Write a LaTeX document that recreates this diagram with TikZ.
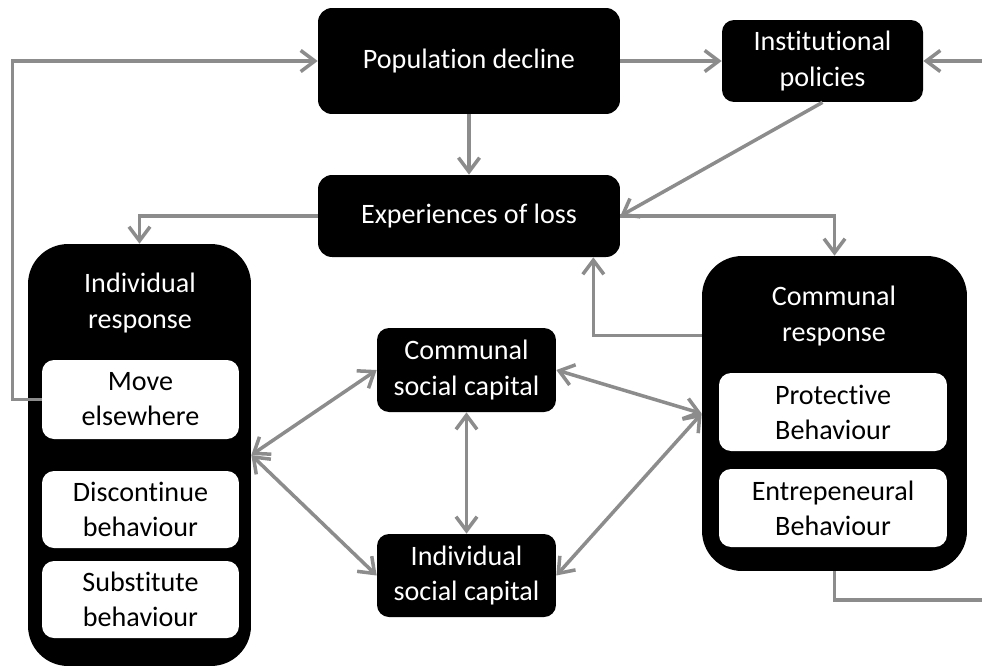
\documentclass[tikz,border=0pt]{standalone}
\usepackage{fontspec}
\setmainfont[Ligatures=NoCommon]{Carlito}
\usetikzlibrary{calc,arrows.meta}

\begin{document}
\begin{tikzpicture}[x=0.02cm,y=-0.02cm,
  font=\fontsize{16}{20}\selectfont,
  blk/.style={fill=black,text=white,rounded corners=0.28cm,align=center,inner sep=0pt},
  big/.style={fill=black,rounded corners=0.8cm,inner sep=0pt},
  wht/.style={fill=white,text=black,rounded corners=0.24cm,align=center,inner sep=0pt},
  conn/.style={draw=gray!90,line width=2pt,-{Straight Barb[length=8pt,width=12pt]}},
  both/.style={conn,{Straight Barb[length=8pt,width=12pt]}-{Straight Barb[length=8pt,width=12pt]}}]
\useasboundingbox (0,0) rectangle (982,667);
% top row
\node[blk,minimum width=6.04cm,minimum height=2.12cm] (pop) at (469,61) {Population decline};
\node[blk,minimum width=4.02cm,minimum height=1.64cm,rounded corners=0.24cm] (inst) at (822.5,61) {Institutional\\policies};
\node[blk,minimum width=6.04cm,minimum height=1.64cm] (loss) at (469,216) {Experiences of loss};
% individual response
\node[big,minimum width=4.46cm,minimum height=8.44cm] (indiv) at (139.5,455) {};
\node[text=white,align=center] (indivT) at (140,303) {Individual\\response};
\node[wht,minimum width=3.94cm,minimum height=1.58cm] (move) at (140.5,399.5) {Move\\elsewhere};
\node[wht,minimum width=3.94cm,minimum height=1.54cm] (disc) at (140.5,509.5) {Discontinue\\behaviour};
\node[wht,minimum width=3.94cm,minimum height=1.54cm] (subs) at (140.5,599.5) {Substitute\\behaviour};
% communal response
\node[big,minimum width=5.3cm,minimum height=6.3cm] (comm) at (834.5,413.5) {};
\node[text=white,align=center] (commT) at (834,316) {Communal\\response};
\node[wht,minimum width=4.56cm,minimum height=1.56cm] (prot) at (833,412) {Protective\\Behaviour};
\node[wht,minimum width=4.56cm,minimum height=1.56cm] (entr) at (833,508) {Entrepeneural\\Behaviour};
% social capital
\node[blk,minimum width=3.58cm,minimum height=1.68cm,rounded corners=0.24cm] (csc) at (466.5,370) {Communal\\social capital};
\node[blk,minimum width=3.58cm,minimum height=1.66cm,rounded corners=0.24cm] (isc) at (466.5,575.5) {Individual\\social capital};
% loose ends on the right
\coordinate (rin) at (982,61);
\coordinate (rout) at (982,600);

\draw[conn] (move.west) -- ++(-29,0) |- (pop.west);
\draw[conn] (pop.east) -- (inst.west);
\draw[conn] (rin) -- (inst.east);
\draw[conn] (pop.south) -- (loss.north);
\draw[conn] (inst.south) -- (loss.east);
\draw[conn] (loss.west) -| (indiv.north);
\draw[conn] (loss.east) -| (comm.north);
\draw[conn] ($(comm.west)+(0,-78)$) -| ($(loss.south east)+(-27,0)$);
\draw[conn,-] (comm.south) |- (rout);
\draw[both] (indiv.east) -- (csc.west);
\draw[both] (indiv.east) -- (isc.west);
\draw[both] (csc.south) -- (isc.north);
\draw[both] (csc.east) -- (comm.west);
\draw[both] (isc.east) -- (comm.west);
\end{tikzpicture}
\end{document}
